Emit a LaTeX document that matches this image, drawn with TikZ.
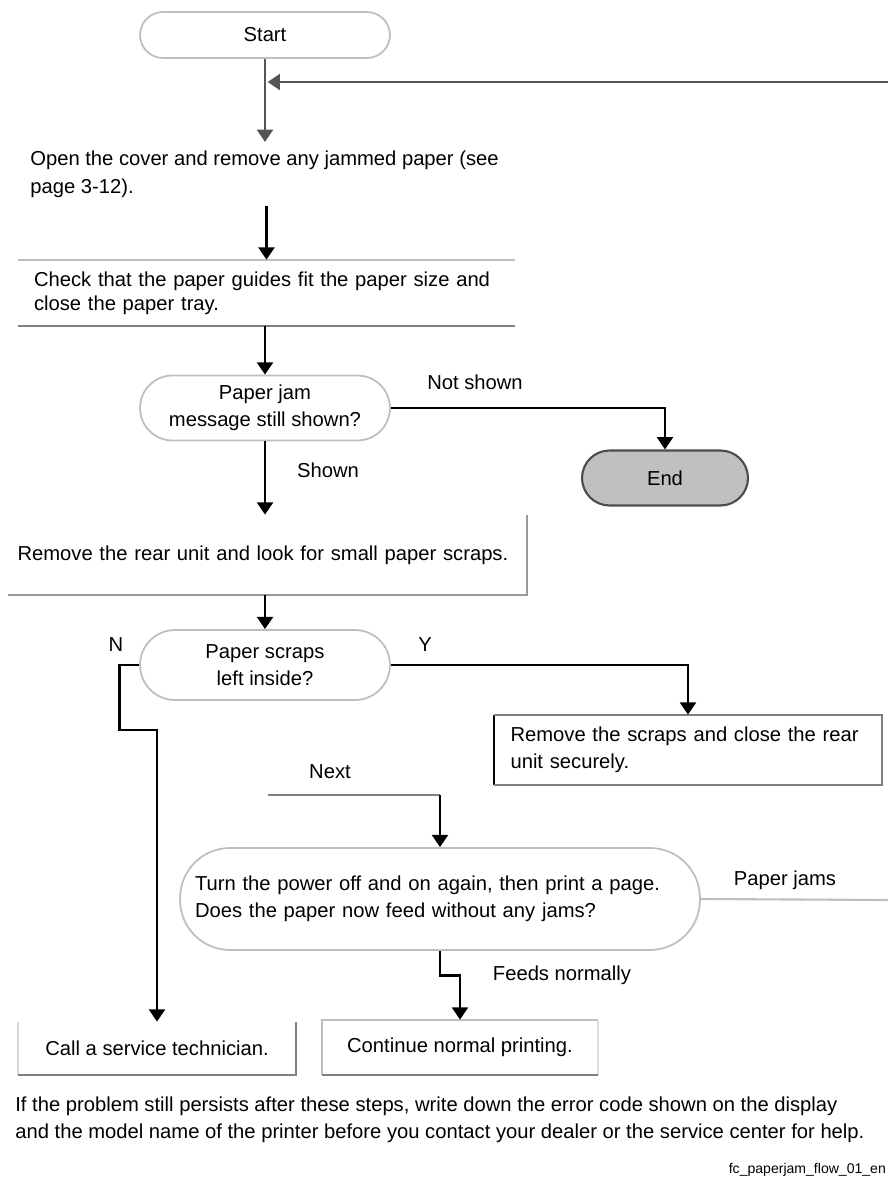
\documentclass[tikz,border=0pt]{standalone}
\usepackage{fontspec}
\setmainfont{Liberation Sans}
\usetikzlibrary{positioning,calc,arrows.meta}
\definecolor{edgelight}{RGB}{190,190,190}
\definecolor{edgedark}{RGB}{128,128,128}
\definecolor{linegray}{RGB}{85,85,85}
\definecolor{stopfill}{RGB}{192,192,192}
\tikzset{
  flowtext/.style={font=\fontsize{11.5}{15.5}\selectfont, text=black},
  termnode/.style={flowtext, rectangle, draw=edgelight, line width=1pt},
  boxnode/.style={flowtext, rectangle, align=left, inner xsep=9pt},
  sideline/.style={line width=1.2pt},
  arr/.style={line width=1.6pt, -{Triangle[width=9pt,length=7pt]}},
}

\begin{document}
\begin{tikzpicture}[x=0.02cm,y=-0.02cm]
  % canvas in pixels of the chart, y runs down
  \useasboundingbox (0,0) rectangle (888,1180);

  % Start and first steps
  \node[termnode, minimum width=5cm, minimum height=0.92cm, rounded corners=0.46cm] (start) at (265,35) {Start};
  \node[flowtext, anchor=north west, align=left, inner xsep=0pt, inner ysep=5pt] (remove) at (30,142)
    {Open the cover and remove any jammed paper (see\\page 3-12).};
  \node[boxnode, minimum width=9.94cm, minimum height=1.32cm, text width=9.3cm,
    font=\fontsize{11.5}{13.5}\selectfont] (guides) at (266.5,293)
    {Check that the paper guides fit the paper size and\\ close the paper tray.};

  % Decision: message still shown?
  \node[termnode, minimum width=5cm, minimum height=1.3cm, rounded corners=0.65cm, align=center] (chkmsg) at (265,408)
    {Paper jam\\message still shown?};
  \node[termnode, draw=black!70, line width=1.2pt, fill=stopfill, minimum width=3.32cm, minimum height=1.1cm,
    rounded corners=0.55cm] (stop) at (665,478) {End};
  \node[boxnode, minimum width=10.38cm, minimum height=1.6cm, text width=10cm, inner xsep=5pt] (rearunit) at (267.5,555)
    {Remove the rear unit and look for small paper scraps.};

  % Decision: scraps left?
  \node[termnode, minimum width=5cm, minimum height=1.4cm, rounded corners=0.7cm, align=center] (chkscrap) at (265,665)
    {Paper scraps\\left inside?};
  \node[boxnode, minimum width=7.76cm, minimum height=1.4cm, text width=7.1cm] (scraps) at (688,750)
    {Remove the scraps and close the rear\\unit securely.};

  % Decision: test print
  \node[termnode, minimum width=10.4cm, minimum height=2.04cm, rounded corners=1cm, align=left, text width=9.8cm] (testprint) at (440,899)
    {Turn the power off and on again, then print a page.\\Does the paper now feed without any jams?};

  % Final boxes
  \node[boxnode, align=center, minimum width=5.56cm, minimum height=1.06cm] (service) at (157,1048.5)
    {Call a service technician.};
  \node[boxnode, align=center, minimum width=5.52cm, minimum height=1.1cm] (normal) at (460,1047.5)
    {Continue normal printing.};

  % Box edges
  \draw[sideline, edgelight] (guides.north west) -- (guides.north east);
  \draw[sideline, edgedark] (guides.south west) -- (guides.south east);
  \draw[sideline, edgedark!80] (rearunit.north east) -- (rearunit.south east) -- (rearunit.south west);
  \draw[sideline, black] (scraps.south west) -- (scraps.north west);
  \draw[sideline, edgedark] (scraps.north west) -- (scraps.north east) -- (scraps.south east) -- (scraps.south west);
  \draw[sideline, edgelight!60] (service.north west) -- (service.south west);
  \draw[sideline, edgedark] (service.north east) -- (service.south east) -- (service.south west);
  \draw[sideline, edgelight] (normal.south west) -- (normal.north west) -- (normal.north east);
  \draw[sideline, edgelight!50] (normal.north east) -- (normal.south east);
  \draw[sideline, edgedark] (normal.south west) -- (normal.south east);

  % Connectors
  \coordinate (loopin) at (888,82);
  \coordinate (loopout) at (888,900);
  \coordinate (merge) at (268,795);
  \draw[arr, draw=linegray] (start) -- (start |- remove.north);
  \draw[arr, draw=linegray, shorten >=1.5pt] (loopin) -- (loopin -| start);
  \draw[arr] (remove.south -| guides.north) -- (guides.north);
  \draw[arr] (guides.south -| chkmsg.north) -- (chkmsg.north);
  \draw[arr] (chkmsg.east) -| (stop.north);
  \draw[arr] (chkmsg.south) -- (chkmsg.south |- rearunit.north);
  \draw[arr] (rearunit.south -| chkscrap.north) -- (chkscrap.north);
  \draw[arr] (chkscrap.west) -- ++(-20,0) -- ++(0,65) -| (service.north);
  \draw[arr] (chkscrap.east) -| (scraps.north);
  \draw[sideline, edgedark] (merge) -- (merge -| testprint.north);
  \draw[arr] (merge -| testprint.north) -- (testprint.north);
  \draw[sideline, edgelight] (testprint.east) -- (loopout);
  \draw[arr] (testprint.south) -- ++(0,25) -| (normal.north);

  % Labels
  \node[flowtext] (lblnotshown) at (475,382) {Not shown};
  \node[flowtext] (lblshown) at (328,470) {Shown};
  \node[flowtext] (lblno) at (116,645) {N};
  \node[flowtext] (lblyes) at (425,645) {Y};
  \node[flowtext] (lblnext) at (330,772) {Next};
  \node[flowtext] (lbljams) at (785,880) {Paper jams};
  \node[flowtext] (lblfeeds) at (562,975) {Feeds normally};

  % Note and figure id
  \node[flowtext, anchor=north west, align=left, inner sep=0pt] (note) at (15,1096)
    {If the problem still persists after these steps, write down the error code shown on the display\\
     and the model name of the printer before you contact your dealer or the service center for help.};
  \node[flowtext, font=\footnotesize, anchor=east, inner sep=1pt] (figid) at (888,1170) {fc\_paperjam\_flow\_01\_en};
\end{tikzpicture}
\end{document}
